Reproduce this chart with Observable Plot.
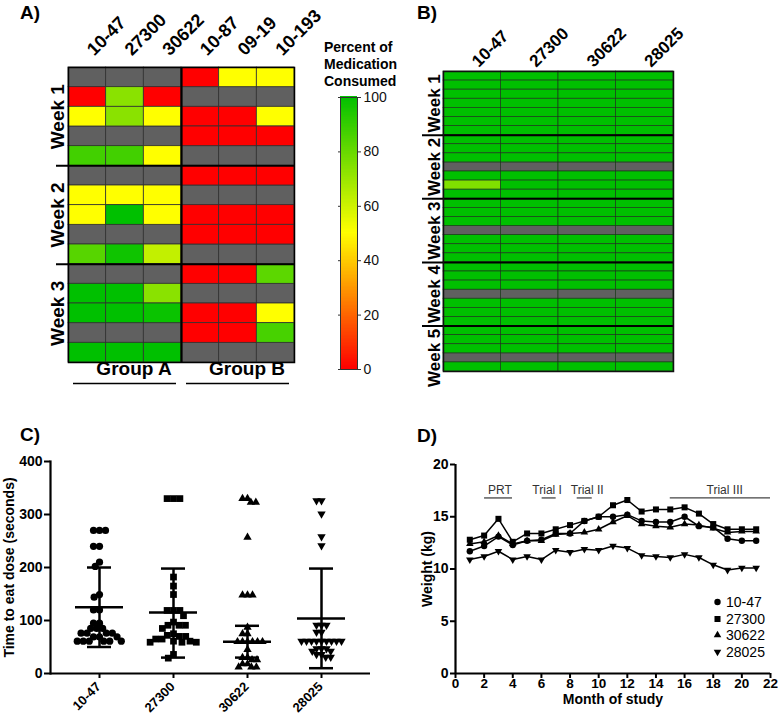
<!DOCTYPE html>
<html><head><meta charset="utf-8">
<script src="https://cdn.jsdelivr.net/npm/d3@7"></script>
<script src="https://cdn.jsdelivr.net/npm/@observablehq/plot@0.6"></script>
<style>
html,body{margin:0;padding:0;background:#fff;}
#root{position:relative;width:778px;height:720px;overflow:hidden;background:#fff;font-family:"Liberation Sans",Arial,Helvetica,sans-serif;color:#000;}
.layer{position:absolute;line-height:0;}
.layer svg{display:block;max-width:none;}
.panel{position:absolute;font-weight:bold;font-size:19px;line-height:1;}
#cbtitle{position:absolute;left:324px;top:39px;font-weight:bold;font-size:14px;line-height:17px;}
.legrow{position:absolute;font-size:14px;line-height:16px;height:16px;display:flex;align-items:center;}
.legrow svg{margin-right:3px;}
</style></head><body><div id="root"></div>
<script>
// ---------------- DATA ----------------
// Panel A: percent of medication consumed (null = no dose / grey)
const aAnimals = ["10-47", "27300", "30622", "10-87", "09-19", "10-193"];
const aWeeks = ["Week 1", "Week 2", "Week 3"];
const aDaysPerWeek = 5;
const aGroups = ["Group A", "Group B"];
const aGroupFirstCol = [0, 3];
const aGroupLastCol = [3, 6];
const a1047  = [null, 0, 50, null, 87, null, 50, 50, null, 83, null, 100, 100, null, 100];
const a27300 = [null, 73, 73, null, 87, null, 50, 100, null, 97, null, 100, 100, null, 100];
const a30622 = [null, 0, 50, null, 50, null, 50, 50, null, 62, null, 73, 98, null, 100];
const a1087  = [0, null, 0, 0, null, 0, null, 0, 0, null, 0, null, 0, 0, null];
const a0919  = [50, null, 0, 0, null, 0, null, 0, 0, null, 0, null, 0, 0, null];
const a10193 = [50, null, 50, 0, null, 0, null, 0, 0, null, 82, null, 50, 86, null];
const aValues = [a1047, a27300, a30622, a1087, a0919, a10193];

// Panel B
const bAnimals = ["10-47", "27300", "30622", "28025"];
const bWeeks = ["Week 1", "Week 2", "Week 3", "Week 4", "Week 5"];
const bDaysPerWeek = 7;
const b1047  = [100,100,100,100,100,100,100, 100,100,100,null,100,75,100, 100,100,100,null,100,100,100, 100,100,100,null,100,100,100, 100,100,100,null,100];
const b27300 = [100,100,100,100,100,100,100, 100,100,100,null,100,100,100, 100,100,100,null,100,100,100, 100,100,100,null,100,100,100, 100,100,100,null,100];
const b30622 = [100,100,100,100,100,100,100, 100,100,100,null,100,100,100, 100,100,100,null,100,100,100, 100,100,100,null,100,100,100, 100,100,100,null,100];
const b28025 = [100,100,100,100,100,100,100, 100,100,100,null,100,100,100, 100,100,100,null,100,100,100, 100,100,100,null,100,100,100, 100,100,100,null,100];
const bValues = [b1047, b27300, b30622, b28025];

// Colour bar
const cbTitle = ["Percent of", "Medication", "Consumed"];
const cbTicks = [0, 20, 40, 60, 80, 100];

// Panel C: time to eat dose (seconds)
const cAnimals = ["10-47", "27300", "30622", "28025"];
const c1047  = [270, 270, 270, 240, 240, 210, 202, 149, 144, 120, 120, 95, 95, 85, 85, 85, 76, 76, 76, 76, 69, 69, 69, 61, 61, 61, 61, 61, 61];
const c27300 = [330, 330, 330, 182, 165, 149, 119, 119, 119, 109, 97, 91, 91, 91, 85, 75, 72, 70, 70, 65, 65, 61, 61, 59, 59, 59, 36, 29];
const c30622 = [330, 330, 323, 323, 257, 148, 148, 148, 87, 75, 75, 60, 60, 60, 60, 60, 60, 45, 30, 30, 26, 26, 18, 18, 12, 12, 12];
const c28025 = [326, 326, 301, 258, 241, 91, 91, 91, 78, 78, 61, 61, 61, 61, 61, 61, 61, 61, 61, 47, 47, 47, 42, 42, 36, 36, 31, 31];
const cValues = [c1047, c27300, c30622, c28025];
const cMean = [125, 115, 60, 104];
const cLow = [50, 30, 30, 10];
const cHigh = [200, 198, 90, 198];
const cTicks = [0, 100, 200, 300, 400];
const cYLabel = "Time to eat dose (seconds)";

// Panel D: weight (kg) by month
const dSeries = ["10-47", "27300", "30622", "28025"];
const dMonths = [1, 2, 3, 4, 5, 6, 7, 8, 9, 10, 11, 12, 13, 14, 15, 16, 17, 18, 19, 20, 21];
const d1047  = [11.7, 12.2, 13.1, 12.3, 12.7, 12.8, 13.4, 13.4, 14.6, 15.0, 15.0, 15.2, 14.6, 14.5, 14.5, 15.0, 14.1, 14.0, 12.9, 12.7, 12.7];
const d27300 = [12.8, 13.2, 14.8, 12.6, 13.4, 13.4, 13.8, 14.2, 14.6, 15.0, 16.1, 16.6, 15.5, 15.7, 15.7, 15.9, 15.3, 14.3, 13.8, 13.8, 13.8];
const d30622 = [12.4, 12.6, 13.2, 12.4, 12.7, 12.7, 13.3, 13.4, 13.5, 13.8, 14.5, 15.1, 14.3, 14.1, 14.0, 14.3, 14.2, 13.9, 13.5, 13.6, 13.6];
const d28025 = [10.9, 11.2, 11.7, 10.9, 11.2, 10.9, 11.8, 11.6, 11.9, 11.8, 12.2, 12.0, 11.3, 11.2, 11.1, 11.4, 11.1, 10.4, 9.9, 10.1, 10.1];
const dValues = [d1047, d27300, d30622, d28025];
const dXTicks = [0, 2, 4, 6, 8, 10, 12, 14, 16, 18, 20, 22];
const dYTicks = [0, 5, 10, 15, 20];
const dPeriods = ["PRT", "Trial I", "Trial II", "Trial III"];
const dPeriodLabelX = [3.1, 6.4, 9.2, 18.8];
const dPeriodFrom = [2.03, 6.05, 8.5, 15.0];
const dPeriodTo = [3.98, 7.03, 9.55, 22.0];
const dPeriodLabelY = 17.5;
const dPeriodLineY = 16.8;

// ---------------- HELPERS ----------------
const FONT = '"Liberation Sans", Arial, Helvetica, sans-serif';
const STYLE = {background: "transparent", fontFamily: FONT, overflow: "visible", color: "#000"};
const NA = "#606060";
const colorScale = {type: "linear", domain: [0, 50, 100], range: ["#ff0000", "#ffff00", "#00c000"]};
const root = document.getElementById("root");
function place(node, left, top) {
  const div = document.createElement("div");
  div.className = "layer";
  div.style.left = left + "px";
  div.style.top = top + "px";
  div.appendChild(node);
  root.appendChild(div);
}
function label(text, left, top, cls = "panel") {
  const div = document.createElement("div");
  div.className = cls;
  div.style.left = left + "px";
  div.style.top = top + "px";
  div.textContent = text;
  root.appendChild(div);
}
const triangleDown = {
  draw(context, size) {
    const y = -Math.sqrt(size / (Math.sqrt(3) * 3));
    context.moveTo(0, -y * 2);
    context.lineTo(-Math.sqrt(3) * y, y);
    context.lineTo(Math.sqrt(3) * y, y);
    context.closePath();
  }
};
const markerSymbols = [d3.symbolCircle, d3.symbolSquare, d3.symbolTriangle, triangleDown];

// ---------------- PANEL A ----------------
const aCells = aAnimals.flatMap((name, c) => aValues[c].map((v, r) => ({c, r, v})));
const aRowsN = a1047.length;
const aPlot = Plot.plot({
  width: 390, height: 392,
  marginLeft: 68, marginRight: 96, marginTop: 67, marginBottom: 30,
  style: STYLE,
  x: {domain: [0, aAnimals.length], axis: null},
  y: {domain: [0, aRowsN], reverse: true, axis: null},
  color: colorScale,
  marks: [
    Plot.rect(aCells.filter(d => d.v == null), {x1: "c", x2: d => d.c + 1, y1: "r", y2: d => d.r + 1, fill: NA, stroke: "#303030", strokeWidth: 0.8}),
    Plot.rect(aCells.filter(d => d.v != null), {x1: "c", x2: d => d.c + 1, y1: "r", y2: d => d.r + 1, fill: "v", stroke: "#303030", strokeWidth: 0.8}),
    Plot.ruleY(aWeeks.slice(1).map((w, i) => (i + 1) * aDaysPerWeek), {insetLeft: -12, stroke: "#000", strokeWidth: 2}),
    Plot.ruleX([aGroupLastCol[0]], {stroke: "#000", strokeWidth: 2.2}),
    Plot.frame({stroke: "#000", strokeWidth: 1.5}),
    Plot.text(aAnimals, {x: (d, i) => i + 0.5, frameAnchor: "top", text: d => d, rotate: -45, textAnchor: "start", dy: -20, dx: -2, fontSize: 18, fontWeight: "bold", fill: "#000"}),
    Plot.text(aWeeks, {y: (d, i) => i * aDaysPerWeek + aDaysPerWeek / 2, frameAnchor: "left", textAnchor: "middle", text: d => d, rotate: -90, dx: -11, fontSize: 19, fontWeight: "bold", fill: "#000"}),
    Plot.ruleY(aGroups, {y: () => aRowsN, x1: (d, i) => aGroupFirstCol[i], x2: (d, i) => aGroupLastCol[i], insetLeft: 5, insetRight: 5, dy: 21, stroke: "#000", strokeWidth: 1.5}),
    Plot.text(aGroups, {x: (d, i) => (aGroupFirstCol[i] + aGroupLastCol[i]) / 2, frameAnchor: "bottom", text: d => d, dy: 12, dx: 9, fontSize: 19, fontWeight: "bold", fill: "#000"})
  ]
});
place(aPlot, 0, 0);

// ---------------- COLOUR BAR ----------------
const cbSteps = d3.range(0, 100, 0.5);
const cbPlot = Plot.plot({
  width: 70, height: 295,
  marginLeft: 10, marginRight: 43, marginTop: 11, marginBottom: 12,
  style: STYLE,
  x: {axis: null},
  y: {domain: [0, 100], axis: null},
  color: colorScale,
  marks: [
    Plot.rect(cbSteps, {y1: d => d, y2: d => d + 1, fill: d => d, shapeRendering: "crispEdges"}),
    Plot.frame({stroke: "#333", strokeWidth: 1}),
    Plot.axisY({anchor: "left", ticks: cbTicks, tickSize: 2, tickFormat: () => "", stroke: "#333"}),
    Plot.axisY({anchor: "right", ticks: cbTicks, tickSize: 3, tickPadding: 3, fontSize: 14, fill: "#111", stroke: "#333", label: null})
  ]
});
place(cbPlot, 330, 86);
{
  const div = document.createElement("div");
  div.id = "cbtitle";
  div.innerHTML = cbTitle.join("<br>");
  root.appendChild(div);
}

// ---------------- PANEL B ----------------
const bCells = bAnimals.flatMap((name, c) => bValues[c].map((v, r) => ({c, r, v})));
const bRowsN = b1047.length;
const bPlot = Plot.plot({
  width: 388, height: 392,
  marginLeft: 53, marginRight: 105, marginTop: 71, marginBottom: 21,
  style: STYLE,
  x: {domain: [0, bAnimals.length], axis: null},
  y: {domain: [0, bRowsN], reverse: true, axis: null},
  color: colorScale,
  marks: [
    Plot.rect(bCells.filter(d => d.v == null), {x1: "c", x2: d => d.c + 1, y1: "r", y2: d => d.r + 1, fill: NA, stroke: "#1c3a1c", strokeWidth: 0.7}),
    Plot.rect(bCells.filter(d => d.v != null), {x1: "c", x2: d => d.c + 1, y1: "r", y2: d => d.r + 1, fill: "v", stroke: "#1c3a1c", strokeWidth: 0.7}),
    Plot.ruleY(bWeeks.slice(1).map((w, i) => (i + 1) * bDaysPerWeek), {insetLeft: -21, stroke: "#000", strokeWidth: 2}),
    Plot.frame({stroke: "#111", strokeWidth: 1.5}),
    Plot.text(bAnimals, {x: (d, i) => i + 0.5, frameAnchor: "top", text: d => d, rotate: -45, textAnchor: "start", dy: -12, dx: -2, fontSize: 17, fontWeight: "bold", fill: "#000"}),
    Plot.text(bWeeks, {y: (d, i) => i * bDaysPerWeek + bDaysPerWeek / 2, frameAnchor: "left", textAnchor: "middle", text: d => d, rotate: -90, dx: -9, fontSize: 17, fontWeight: "bold", fill: "#000"})
  ]
});
place(bPlot, 390, 0);

// ---------------- PANEL C ----------------
const cPoints = cAnimals.flatMap((a, k) => cValues[k].map(t => ({a, t})));
const cRadius = [3.6, 3.8, 3.1, 3.1];
const cDots = Plot.plot({
  width: 390, height: 340,
  marginLeft: 50, marginRight: 20, marginTop: 81, marginBottom: 47,
  style: STYLE,
  fx: {domain: cAnimals, paddingInner: 0, paddingOuter: 0.162, axis: null, label: null},
  y: {domain: [0, 400], axis: null},
  marks: cAnimals.map((a, k) => Plot.dot(cPoints.filter(d => d.a === a),
    Plot.dodgeX({anchor: "middle", padding: -1.2}, {fx: "a", y: "t", r: cRadius[k], symbol: markerSymbols[k], fill: "#000", stroke: "none"})))
});
place(cDots, 0, 380);
const cAxes = Plot.plot({
  width: 390, height: 340,
  marginLeft: 50, marginRight: 20, marginTop: 81, marginBottom: 47,
  style: STYLE,
  x: {type: "band", domain: cAnimals, paddingInner: 0, paddingOuter: 0.162, axis: null},
  y: {domain: [0, 400], axis: null},
  marks: [
    Plot.tickY(cAnimals, {x: d => d, y: (d, i) => cMean[i], insetLeft: 13, insetRight: 13, stroke: "#000", strokeWidth: 2.5}),
    Plot.tickY(cAnimals, {x: d => d, y: (d, i) => cHigh[i], insetLeft: 25, insetRight: 25, stroke: "#000", strokeWidth: 2.5}),
    Plot.tickY(cAnimals, {x: d => d, y: (d, i) => cLow[i], insetLeft: 25, insetRight: 25, stroke: "#000", strokeWidth: 2.5}),
    Plot.ruleX(cAnimals, {x: d => d, y1: (d, i) => cLow[i], y2: (d, i) => cHigh[i], stroke: "#000", strokeWidth: 2.5}),
    Plot.frame({anchor: "left", stroke: "#000", strokeWidth: 2.2}),
    Plot.ruleY([0], {stroke: "#000", strokeWidth: 2.2}),
    Plot.axisY({ticks: cTicks, tickSize: 6, tickPadding: 2, fontSize: 14, fontWeight: "bold", label: null, stroke: "#000", strokeWidth: 2, fill: "#000"}),
    Plot.axisX({tickSize: 5, tickFormat: () => "", stroke: "#000", strokeWidth: 2, label: null}),
    Plot.text(cAnimals, {x: d => d, frameAnchor: "bottom", text: d => d, rotate: -45, textAnchor: "end", dy: 14, dx: 2, fontSize: 13, fontWeight: "bold", fill: "#000"}),
    Plot.text([cYLabel], {frameAnchor: "left", textAnchor: "middle", text: d => d, rotate: -90, dx: -41, fontSize: 14, fontWeight: "bold", fill: "#000"})
  ]
});
place(cAxes, 0, 380);

// ---------------- PANEL D ----------------
const dPoints = dSeries.flatMap((s, k) => dValues[k].map((w, i) => ({s, m: dMonths[i], w})));
const dRadius = [3.2, 3.4, 2.8, 2.8];
const dPlot = Plot.plot({
  width: 388, height: 340,
  marginLeft: 65, marginRight: 8, marginTop: 84, marginBottom: 47,
  style: STYLE,
  x: {domain: [0, 22], axis: null},
  y: {domain: [0, 20], axis: null},
  marks: [
    Plot.ruleY(dPeriods, {y: () => dPeriodLineY, x1: (d, i) => dPeriodFrom[i], x2: (d, i) => dPeriodTo[i], stroke: "#444", strokeWidth: 1.3}),
    Plot.text(dPeriods, {x: (d, i) => dPeriodLabelX[i], y: () => dPeriodLabelY, text: d => d, fontSize: 12, fill: "#333"}),
    Plot.line(dPoints, {x: "m", y: "w", z: "s", stroke: "#000", strokeWidth: 1.5}),
    ...dSeries.map((s, k) => Plot.dot(dPoints.filter(d => d.s === s), {x: "m", y: "w", r: dRadius[k], symbol: markerSymbols[k], fill: "#000", stroke: "none"})),
    Plot.ruleX([0], {stroke: "#000", strokeWidth: 2.2}),
    Plot.ruleY([0], {stroke: "#000", strokeWidth: 2.2}),
    Plot.axisX({ticks: dXTicks, tickSize: 5, tickPadding: 0, fontSize: 13.5, fontWeight: "bold", label: null, stroke: "#000", strokeWidth: 2, fill: "#000"}),
    Plot.axisY({ticks: dYTicks, tickSize: 5, tickPadding: 2, fontSize: 14, fontWeight: "bold", label: null, stroke: "#000", strokeWidth: 2, fill: "#000"}),
    Plot.text(["Month of study"], {frameAnchor: "bottom", text: d => d, dy: 30, fontSize: 14, fontWeight: "bold", fill: "#000"}),
    Plot.text(["Weight (kg)"], {frameAnchor: "left", textAnchor: "middle", text: d => d, rotate: -90, dx: -28, fontSize: 14, fontWeight: "bold", fill: "#000"})
  ]
});
place(dPlot, 390, 380);

// legend for D
dSeries.forEach((s, k) => {
  const row = document.createElement("div");
  row.className = "legrow";
  row.style.left = "712px";
  row.style.top = (594 + k * 16.5) + "px";
  const svg = d3.create("svg").attr("width", 11).attr("height", 12);
  svg.append("path").attr("transform", "translate(5.5,6)")
    .attr("d", d3.symbol(markerSymbols[k], Math.PI * dRadius[k] * dRadius[k])()).attr("fill", "#000");
  row.appendChild(svg.node());
  row.appendChild(document.createTextNode(s));
  root.appendChild(row);
});

// panel letters
label("A)", 20, 3);
label("B)", 417, 3);
label("C)", 20, 425);
label("D)", 417, 426);
</script></body></html>
